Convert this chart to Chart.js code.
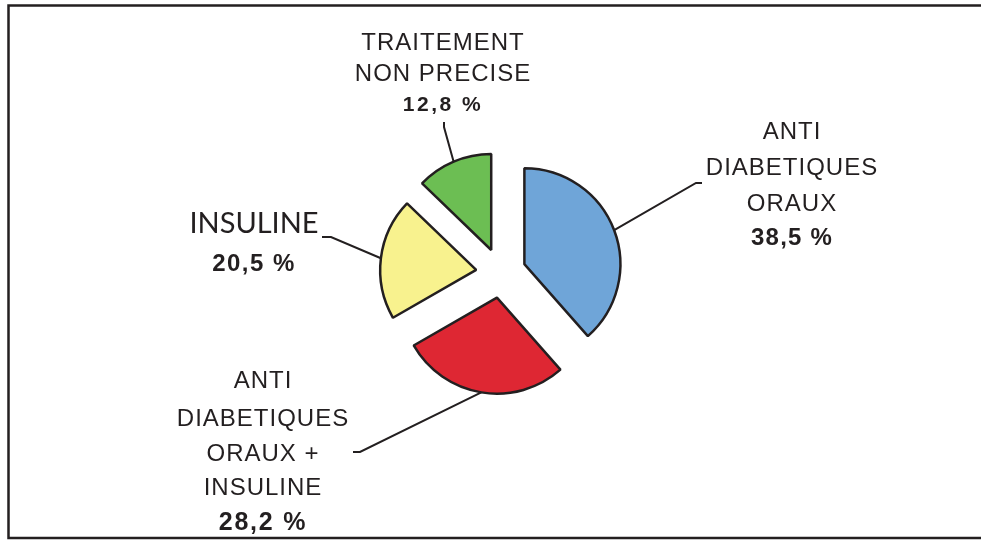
<!DOCTYPE html>
<html>
<head>
<meta charset="utf-8">
<script src="https://cdn.jsdelivr.net/npm/chart.js@4.4.1/dist/chart.umd.min.js"></script>
<style>
  body { margin: 0; background: #fff; overflow: hidden; }
  .chart-box { width: 981px; height: 540px; }
</style>
</head>
<body>
<div class="chart-box"><canvas id="treatment-chart"></canvas></div>
<script>
const categories = [
  ['ANTI', 'DIABETIQUES', 'ORAUX'],
  ['ANTI', 'DIABETIQUES', 'ORAUX +', 'INSULINE'],
  ['INSULINE'],
  ['TRAITEMENT', 'NON PRECISE']
];
const shares = [38.5, 28.2, 20.5, 12.8];
const sliceColors = ['#6fa5d8', '#de2733', '#f8f28e', '#6cbe53'];

const ink = '#231f20';
const explode = 25;
const arial = '"Liberation Sans", Arial, sans-serif';

const labelLayout = [
  { x: 792, lines: [139, 175, 211], pctY: 245, font: `24px ${arial}`, spacing: 1,
    pctFont: `bold 24px ${arial}`, pctSpacing: 1.2, elbow: [696, 183], end: [702, 183] },
  { x: 263, lines: [388, 426, 461, 495], pctY: 530, font: `24px ${arial}`, spacing: 1,
    pctFont: `bold 25px ${arial}`, pctSpacing: 1.8, elbow: [360, 452], end: [353, 452] },
  { x: 254, lines: [233], pctY: 271, font: '29px Lato, sans-serif', spacing: 0,
    pctFont: `bold 24px ${arial}`, pctSpacing: 1.5, elbow: [331, 237], end: [322, 237] },
  { x: 443, lines: [50, 81], pctY: 111, font: `24px ${arial}`, spacing: 1,
    pctFont: `bold 21px ${arial}`, pctSpacing: 2.5, elbow: [444, 127], end: [444, 122] }
];

function formatShare(value) {
  return `${String(value).replace('.', ',')} %`;
}

function drawText(ctx, text, x, y, font, spacing) {
  ctx.font = font;
  ctx.letterSpacing = `${spacing}px`;
  ctx.fillText(text, x, y);
}

const explodePlugin = {
  id: 'explode',
  beforeDatasetDraw(chart, args) {
    const ctx = chart.ctx;
    args.meta.data.forEach(arc => {
      const mid = (arc.startAngle + arc.endAngle) / 2;
      ctx.save();
      ctx.translate(Math.cos(mid) * explode, Math.sin(mid) * explode);
      arc.draw(ctx);
      ctx.restore();
    });
    return false;
  }
};

const calloutPlugin = {
  id: 'callouts',
  afterDraw(chart) {
    const ctx = chart.ctx;
    const arcs = chart.getDatasetMeta(0).data;
    ctx.save();
    ctx.strokeStyle = ink;
    ctx.lineWidth = 2.5;
    ctx.beginPath();
    ctx.moveTo(chart.width + 10, 5.5);
    ctx.lineTo(8.5, 5.5);
    ctx.lineTo(8.5, 538);
    ctx.lineTo(chart.width + 10, 538);
    ctx.stroke();

    ctx.lineWidth = 2;
    arcs.forEach((arc, i) => {
      const spot = labelLayout[i];
      const mid = (arc.startAngle + arc.endAngle) / 2;
      const reach = arc.outerRadius + explode;
      ctx.beginPath();
      ctx.moveTo(arc.x + Math.cos(mid) * reach, arc.y + Math.sin(mid) * reach);
      ctx.lineTo(spot.elbow[0], spot.elbow[1]);
      ctx.lineTo(spot.end[0], spot.end[1]);
      ctx.stroke();
    });

    ctx.fillStyle = ink;
    ctx.textAlign = 'center';
    ctx.textBaseline = 'alphabetic';
    categories.forEach((lines, i) => {
      const spot = labelLayout[i];
      lines.forEach((line, j) => drawText(ctx, line, spot.x, spot.lines[j], spot.font, spot.spacing));
      drawText(ctx, formatShare(shares[i]), spot.x, spot.pctY, spot.pctFont, spot.pctSpacing);
    });
    ctx.restore();
  }
};

const treatmentChart = new Chart(document.getElementById('treatment-chart'), {
  type: 'pie',
  data: {
    labels: categories.map(lines => lines.join(' ')),
    datasets: [{
      data: shares,
      backgroundColor: sliceColors,
      borderColor: ink,
      borderWidth: 2.5,
      radius: 96
    }]
  },
  options: {
    responsive: true,
    maintainAspectRatio: false,
    animation: false,
    events: [],
    layout: { padding: { left: 21, top: 6, right: 0, bottom: 0 } },
    plugins: {
      legend: { display: false },
      tooltip: { enabled: false }
    }
  },
  plugins: [explodePlugin, calloutPlugin]
});
</script>
</body>
</html>
